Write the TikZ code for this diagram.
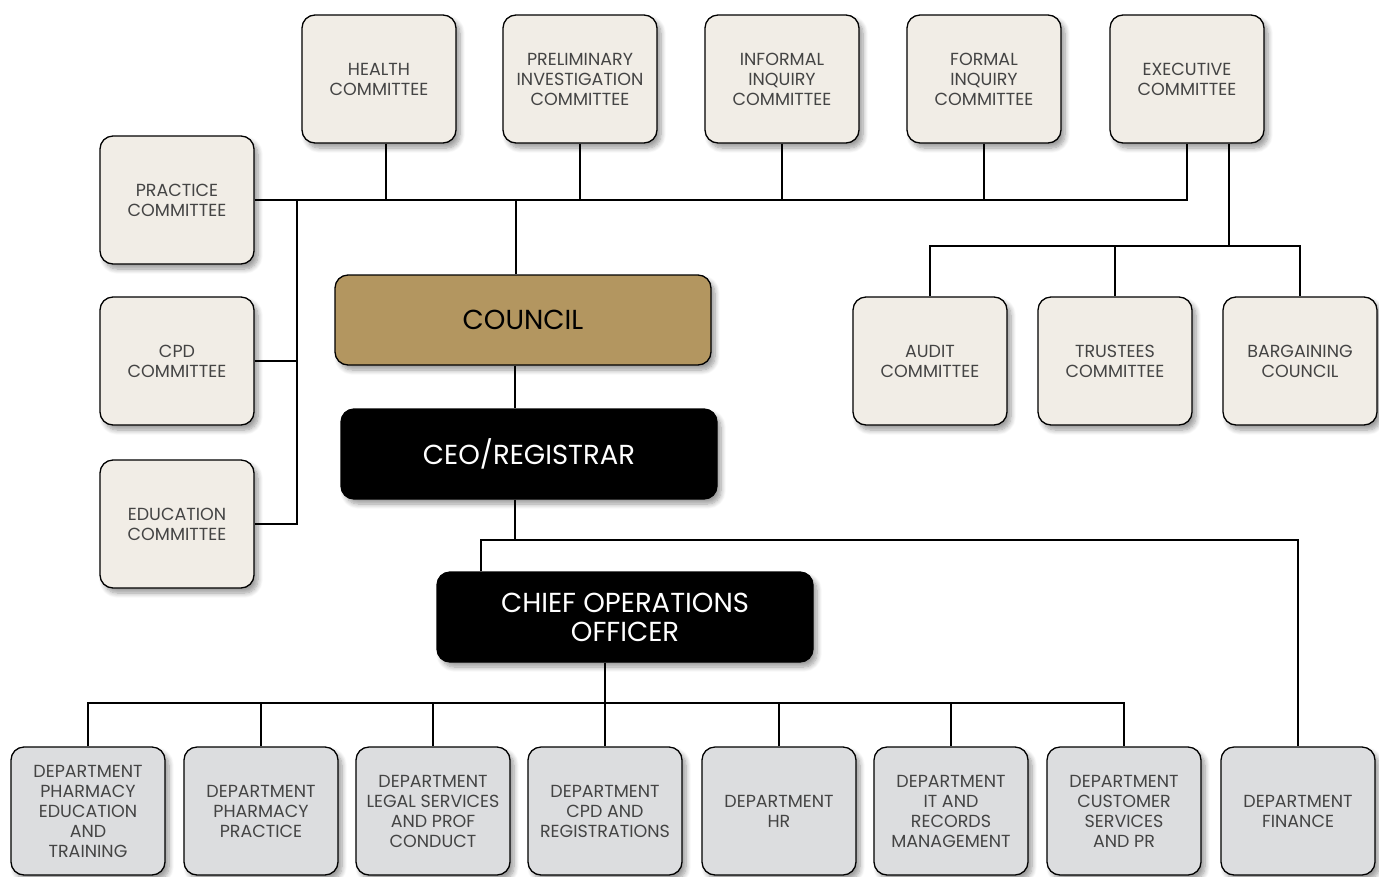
\documentclass[tikz,border=0pt]{standalone}
\usepackage{fontspec}
\setmainfont{Poppins}
\usepackage{tikz}
\usetikzlibrary{positioning}
\usetikzlibrary{shadows.blur}
\usetikzlibrary{calc}
\definecolor{cream}{HTML}{F1EDE6}
\definecolor{deptgray}{HTML}{DCDDDF}
\definecolor{gold}{HTML}{B39660}
\definecolor{txtgray}{HTML}{444444}

\begin{document}
\begin{tikzpicture}[x=1pt,y=-1pt,line width=1.5pt]
\tikzset{box/.style={rectangle, rounded corners=13pt, draw=black, line width=1.3pt, align=center, inner sep=2pt,
  blur shadow={shadow xshift=4pt, shadow yshift=-5pt, shadow blur steps=8, shadow blur radius=5pt, shadow opacity=40}}}
\tikzset{committee/.style={box, fill=cream, text=txtgray, minimum width=154pt, minimum height=128pt, font=\fontsize{17.5}{20}\selectfont}}
\tikzset{dept/.style={committee, fill=deptgray}}
\tikzset{lead/.style={box, minimum width=376pt, minimum height=90pt, font=\fontsize{27.5}{29}\selectfont}}
\useasboundingbox (0,0) rectangle (1379,876);
% top committees
\node[committee] (health) at (379,79) {HEALTH\\COMMITTEE};
\node[committee] (prelim) at (580,79) {PRELIMINARY\\INVESTIGATION\\COMMITTEE};
\node[committee] (informal) at (782,79) {INFORMAL\\INQUIRY\\COMMITTEE};
\node[committee] (formal) at (984,79) {FORMAL\\INQUIRY\\COMMITTEE};
\node[committee] (exec) at (1187,79) {EXECUTIVE\\COMMITTEE};
% left committees
\node[committee] (practice) at (177,200) {PRACTICE\\COMMITTEE};
\node[committee] (cpd) at (177,361) {CPD\\COMMITTEE};
\node[committee] (educ) at (177,524) {EDUCATION\\COMMITTEE};
% right committees
\node[committee] (audit) at (930,361) {AUDIT\\COMMITTEE};
\node[committee] (trustees) at (1115,361) {TRUSTEES\\COMMITTEE};
\node[committee] (bargain) at (1300,361) {BARGAINING\\COUNCIL};
% management
\node[lead, fill=gold, text=black] (council) at (523,320) {COUNCIL};
\node[lead, fill=black, text=white] (ceo) at (529,454) {CEO/REGISTRAR};
\node[lead, fill=black, text=white] (coo) at (625,617) {CHIEF OPERATIONS\\OFFICER};
% departments
\node[dept] (d1) at (88,811) {DEPARTMENT\\PHARMACY\\EDUCATION\\AND\\TRAINING};
\node[dept] (d2) at (261,811) {DEPARTMENT\\PHARMACY\\PRACTICE};
\node[dept] (d3) at (433,811) {DEPARTMENT\\LEGAL SERVICES\\AND PROF\\CONDUCT};
\node[dept] (d4) at (605,811) {DEPARTMENT\\CPD AND\\REGISTRATIONS};
\node[dept] (d5) at (779,811) {DEPARTMENT\\HR};
\node[dept] (d6) at (951,811) {DEPARTMENT\\IT AND\\RECORDS\\MANAGEMENT};
\node[dept] (d7) at (1124,811) {DEPARTMENT\\CUSTOMER\\SERVICES\\AND PR};
\node[dept] (finance) at (1298,811) {DEPARTMENT\\FINANCE};
% bus points
\coordinate (lbus) at (297,199);
\coordinate (rbus) at (1229,246);
\coordinate (cbus) at (515,540);
\coordinate (dbus) at (605,703);
% top lines
\draw (practice.east) -- (practice.east -| exec.south) -- (exec.south);
\draw ([xshift=7pt]health.south) -- ([xshift=7pt]health.south |- practice.east);
\foreach \c in {prelim,informal,formal}
  \draw (\c.south) -- (\c.south |- practice.east);
\draw ([xshift=-7pt]council.north) -- ([xshift=-7pt]council.north |- practice.east);
\draw (lbus) |- (educ.east);
\draw (cpd.east) -- (cpd.east -| lbus);
\draw (exec.south -| rbus) -- (rbus);
\draw (audit.north) |- (bargain.north |- rbus) -- (bargain.north);
\draw (trustees.north) -- (trustees.north |- rbus);
% management lines
\draw (council.south -| cbus) -- (ceo.north -| cbus);
\draw (ceo.south -| cbus) -- (cbus);
\draw ([xshift=-144pt]coo.north) |- (finance.north |- cbus) -- (finance.north);
\draw (coo.south -| dbus) -- (dbus);
\draw (d1.north) |- (d7.north |- dbus) -- (d7.north);
\foreach \d in {d2,d3,d4,d5,d6}
  \draw (\d.north) -- (\d.north |- dbus);
\end{tikzpicture}
\end{document}
